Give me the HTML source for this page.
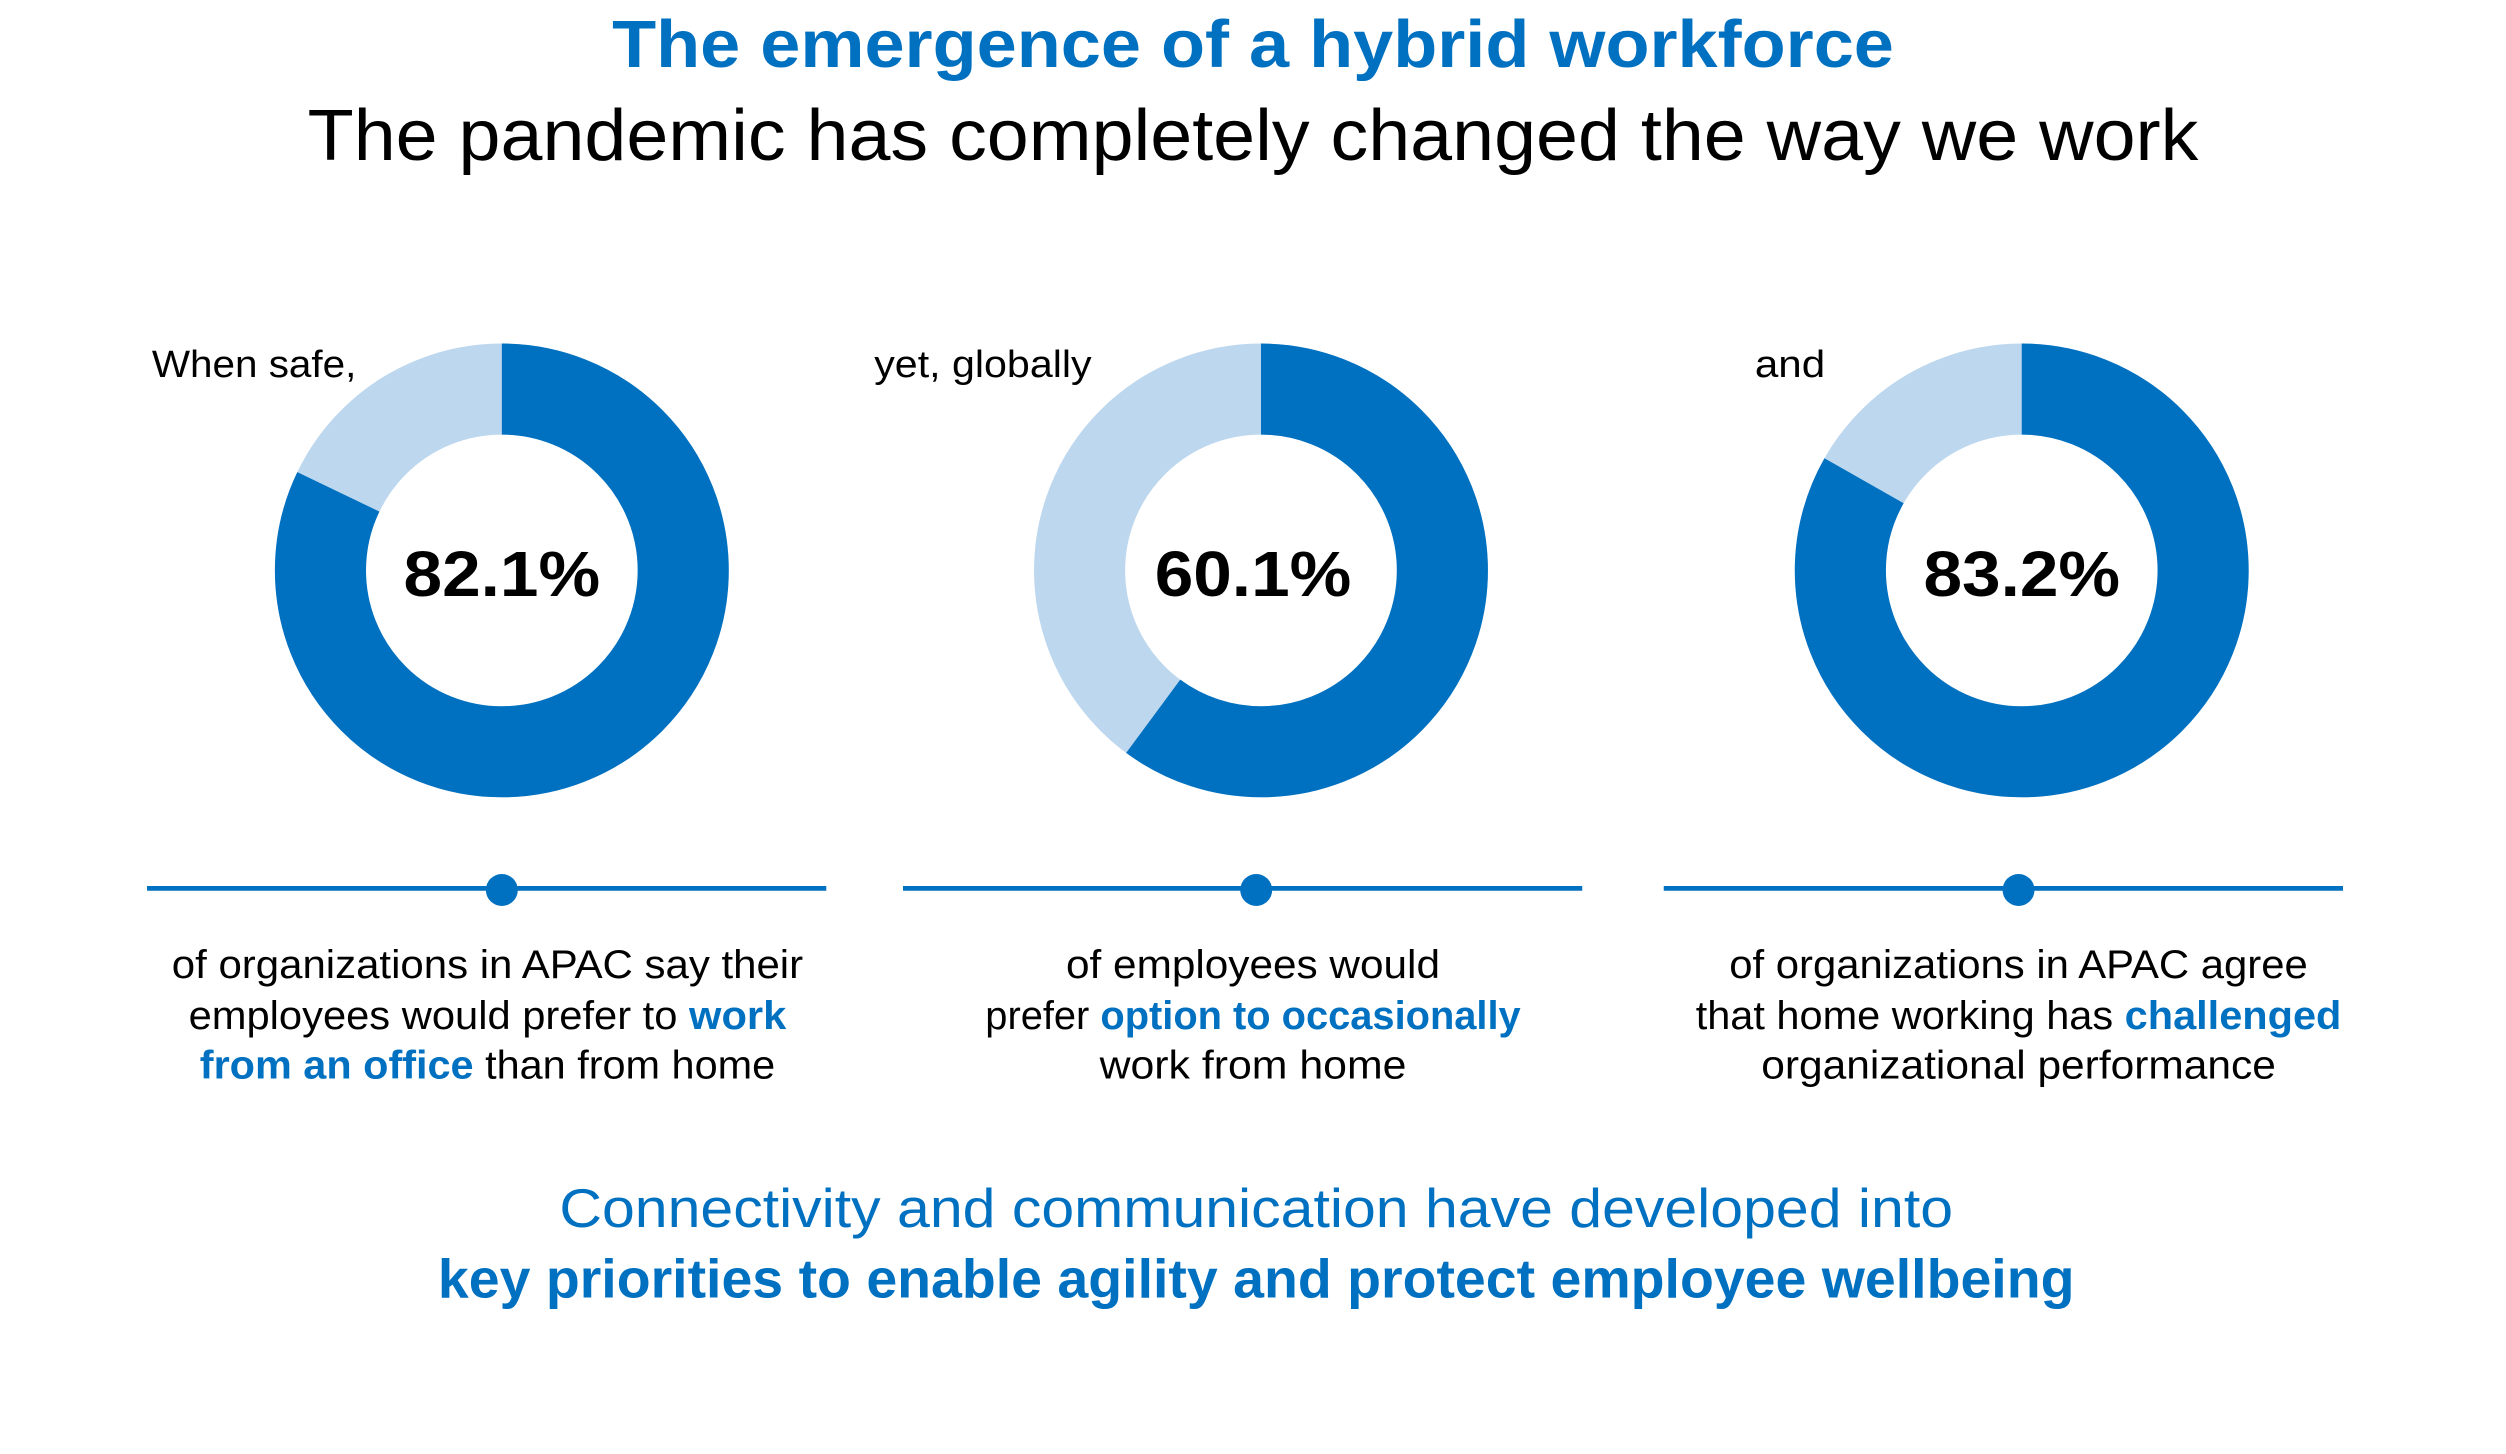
<!DOCTYPE html>
<html><head><meta charset="utf-8"><style>html,body{margin:0;padding:0;background:#fff}svg{display:block}</style></head>
<body>
<svg width="2506" height="1454" viewBox="0 0 1568 910" preserveAspectRatio="none" xmlns="http://www.w3.org/2000/svg" font-family="'Liberation Sans', sans-serif">
<rect width="1568" height="910" fill="#fff"/>
<text x="784" y="42" text-anchor="middle" font-size="42" font-weight="bold" fill="#0070c0" textLength="802" lengthAdjust="spacingAndGlyphs">The emergence of a hybrid workforce</text>
<text x="784" y="100" text-anchor="middle" font-size="45" fill="#000" textLength="1183" lengthAdjust="spacingAndGlyphs">The pandemic has completely changed the way we work</text>

<g fill="none" stroke-width="57">
<circle cx="314" cy="357" r="113.5" stroke="#bdd7ee"/>
<circle cx="314" cy="357" r="113.5" stroke="#0070c0" stroke-dasharray="585.5 1000" transform="rotate(-90 314 357)"/>
<circle cx="789" cy="357" r="113.5" stroke="#bdd7ee"/>
<circle cx="789" cy="357" r="113.5" stroke="#0070c0" stroke-dasharray="428.6 1000" transform="rotate(-90 789 357)"/>
<circle cx="1265" cy="357" r="113.5" stroke="#bdd7ee"/>
<circle cx="1265" cy="357" r="113.5" stroke="#0070c0" stroke-dasharray="593.3 1000" transform="rotate(-90 1265 357)"/>
</g>

<g font-size="24" fill="#000">
<text x="95" y="236" textLength="128" lengthAdjust="spacingAndGlyphs">When safe,</text>
<text x="547" y="236" textLength="136" lengthAdjust="spacingAndGlyphs">yet, globally</text>
<text x="1098" y="236" textLength="44" lengthAdjust="spacingAndGlyphs">and</text>
</g>
<g font-size="40" font-weight="bold" fill="#000" text-anchor="middle">
<text x="314" y="373" textLength="123" lengthAdjust="spacingAndGlyphs">82.1%</text>
<text x="784" y="373" textLength="123" lengthAdjust="spacingAndGlyphs">60.1%</text>
<text x="1265" y="373" textLength="123" lengthAdjust="spacingAndGlyphs">83.2%</text>
</g>

<g stroke="#0070c0" stroke-width="3">
<line x1="92" y1="556" x2="517" y2="556"/>
<line x1="565" y1="556" x2="990" y2="556"/>
<line x1="1041" y1="556" x2="1466" y2="556"/>
</g>
<g fill="#0070c0">
<circle cx="314" cy="557" r="10"/>
<circle cx="786" cy="557" r="10"/>
<circle cx="1263" cy="557" r="10"/>
</g>

<g font-size="25" fill="#000" text-anchor="middle">
<text x="305" y="612" textLength="395" lengthAdjust="spacingAndGlyphs">of organizations in APAC say their</text>
<text x="305" y="644" textLength="374" lengthAdjust="spacingAndGlyphs">employees would prefer to <tspan fill="#0070c0" font-weight="bold">work</tspan></text>
<text x="305" y="675" textLength="360" lengthAdjust="spacingAndGlyphs"><tspan fill="#0070c0" font-weight="bold">from an office</tspan> than from home</text>

<text x="784" y="612" textLength="234" lengthAdjust="spacingAndGlyphs">of employees would</text>
<text x="784" y="644" textLength="335" lengthAdjust="spacingAndGlyphs">prefer <tspan fill="#0070c0" font-weight="bold">option to occasionally</tspan></text>
<text x="784" y="675" textLength="192" lengthAdjust="spacingAndGlyphs">work from home</text>

<text x="1263" y="612" textLength="362" lengthAdjust="spacingAndGlyphs">of organizations in APAC agree</text>
<text x="1263" y="644" textLength="404" lengthAdjust="spacingAndGlyphs">that home working has <tspan fill="#0070c0" font-weight="bold">challenged</tspan></text>
<text x="1263" y="675" textLength="322" lengthAdjust="spacingAndGlyphs">organizational performance</text>
</g>

<text x="786" y="768" text-anchor="middle" font-size="34" fill="#0070c0" textLength="872" lengthAdjust="spacingAndGlyphs">Connectivity and communication have developed into</text>
<text x="786" y="812" text-anchor="middle" font-size="34" font-weight="bold" fill="#0070c0" textLength="1024" lengthAdjust="spacingAndGlyphs">key priorities to enable agility and protect employee wellbeing</text>
</svg>
</body></html>
